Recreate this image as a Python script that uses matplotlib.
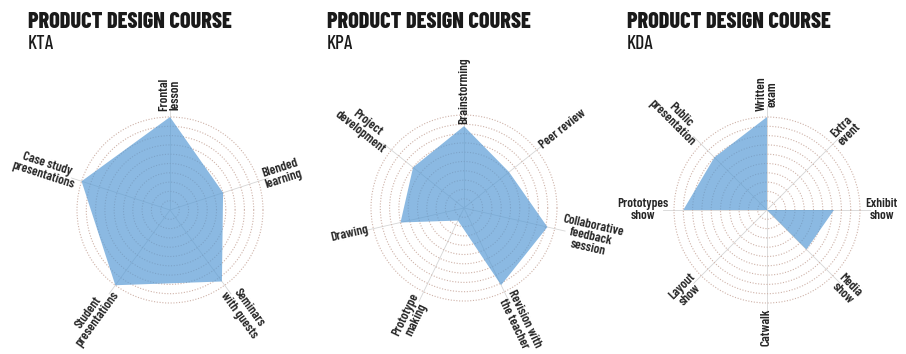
import numpy as np
import matplotlib; matplotlib.use("Agg"); import matplotlib.pyplot as plt

plt.rcParams['font.family'] = ['Barlow Condensed', 'DejaVu Sans']

# --- data (0..1 scale) ---
kta_labels = ["Frontal\nlesson", "Blended\nlearning", "Seminars\nwith guests",
              "Student\npresentations", "Case study\npresentations"]
kta_values = [1.0, 0.6, 0.95, 1.0, 1.0]

kpa_labels = ["Brainstorming", "Peer review", "Collaborative\nfeedback\nsession",
              "Revision with\nthe teacher", "Prototype\nmaking", "Drawing",
              "Project\ndevelopment"]
kpa_values = [0.88, 0.62, 0.92, 0.92, 0.15, 0.7, 0.7]

kda_labels = ["Written\nexam", "Extra\nevent", "Exhibit\nshow", "Media\nshow",
              "Catwalk", "Layout\nshow", "Prototypes\nshow", "Public\npresentation"]
kda_values = [1.0, 0.0, 0.72, 0.6, 0.0, 0.0, 0.9, 0.8]

charts = [("KTA", kta_labels, kta_values, (170, 210)),
          ("KPA", kpa_labels, kpa_values, (464, 208)),
          ("KDA", kda_labels, kda_values, (767, 210))]
title_x = [28, 327, 627]
# a couple of labels sit closer to the rings in the original
label_r = {"Brainstorming": 0.9, "Revision with\nthe teacher": 1.02}

W, H = 906, 354
R = 93 * 1.12  # px radius of axes (outer ring at 1.0)
fig = plt.figure(figsize=(W / 100, H / 100), dpi=100)

for (sub, labels, vals, (cx, cy)), tx in zip(charts, title_x):
    ax = fig.add_axes([(cx - R) / W, 1 - (cy + R) / H, 2 * R / W, 2 * R / H],
                      projection="polar")
    n = len(labels)
    ang = np.deg2rad(90 - np.arange(n) * 360 / n)
    a = np.append(ang, ang[0]); v = np.append(vals, vals[0])
    ax.fill(a, v, color="#5a9cd6", alpha=0.7, lw=0, zorder=2)
    ax.set_ylim(0, 1.12)
    ax.set_rgrids(np.arange(0.1, 1.01, 0.1), labels=[])
    ax.set_thetagrids(np.rad2deg(ang) % 360, labels=[])
    ax.yaxis.grid(True, color="#ceb2a8", linestyle=(0, (1, 1.5)), lw=0.8)
    ax.xaxis.grid(True, color="#d6d6d6", linestyle="-", lw=0.6)
    ax.spines["polar"].set_visible(False)
    ax.set_facecolor("none")
    for t, lab in zip(ang, labels):
        d = (np.rad2deg(t) + 180) % 360 - 180
        if abs(d + 90) < 0.5:
            rot, ha = 90, "right"
        elif -90 < d < 90 or abs(d - 90) < 0.5:
            rot, ha = d, "left"
        else:
            rot, ha = (d + 180 if d < 0 else d - 180), "right"
        ax.text(t, label_r.get(lab, 1.06), lab, rotation=rot, rotation_mode="anchor",
                ha=ha, va="center", multialignment="center", fontsize=9.5,
                weight=600, color="#262626", linespacing=0.95)
    fig.text(tx / W, 1 - 28.3 / H, "PRODUCT DESIGN COURSE", fontsize=16,
             weight=800, color="#1a1a1a", va="baseline", ha="left")
    fig.text(tx / W, 1 - 49.3 / H, sub, fontsize=14, weight=500, color="#1a1a1a",
             va="baseline", ha="left")

fig.savefig("out.png", dpi=100)
